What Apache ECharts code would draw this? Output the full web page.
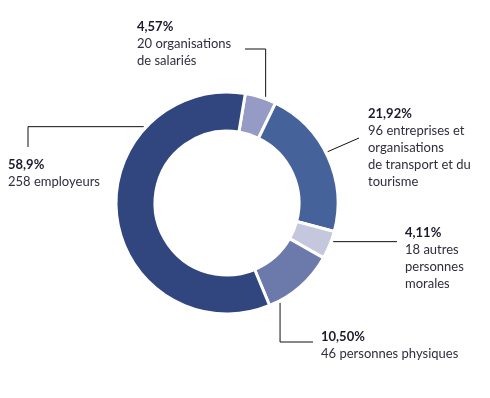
<!DOCTYPE html>
<html>
<head>
<meta charset="utf-8">
<script src="https://cdn.jsdelivr.net/npm/echarts@6/dist/echarts.min.js"></script>
<style>
  html, body { margin: 0; padding: 0; background: #fff; }
  #donut { width: 490px; height: 398px; }
</style>
</head>
<body>
<div id="donut"></div>
<script>
// données (sens horaire depuis le haut)
const categories = ['20 organisations\nde salariés', '96 entreprises et\norganisations\nde transport et du\ntourisme', '18 autres\npersonnes\nmorales', '46 personnes physiques', '258 employeurs'];
const counts = [20, 96, 18, 46, 258];
const percents = ['4,57%', '21,92%', '4,11%', '10,50%', '58,9%'];

const colors = ['#959BC5', '#46629A', '#C5C7DF', '#6C79AB', '#31467E'];

var chartDom = document.getElementById('donut');
var myChart = echarts.init(chartDom);

const cx = 227, cy = 203;
// angle du départ du trait (degrés, sens horaire depuis le haut) et position du texte
const anchors = [
  { ang: 20, x: 137, y: 18 },
  { ang: 63, x: 368, y: 105 },
  { ang: 110, x: 405, y: 224 },
  { ang: 152, x: 321, y: 328 },
  { ang: 312.5, x: 8, y: 156 }
];
function anchorPt(i) {
  const a = anchors[i].ang * Math.PI / 180;
  return [cx + 113 * Math.sin(a), cy - 113 * Math.cos(a)];
}
function linePts(i) {
  const p = anchorPt(i);
  switch (i) {
    case 0: return [p, [p[0], 49], [245, 49]];
    case 1: return [p, [359, 138]];
    case 2: return [p, [397, p[1]]];
    case 3: return [p, [p[0], 342], [313, 342]];
    default: return [p, [28, p[1]], [28, 147]];
  }
}

const data = categories.map((name, i) => ({
  name: name,
  value: counts[i],
  itemStyle: { color: colors[i] }
}));

var option = {
  animation: false,
  series: [{
    type: 'pie',
    center: [cx, cy],
    radius: [72, 111],
    startAngle: 80.5,
    clockwise: true,
    itemStyle: { borderColor: '#fff', borderWidth: 3 },
    label: {
      show: true,
      position: 'outside',
      overflow: 'none',
      edgeDistance: 0,
      fontFamily: 'Lato',
      formatter: function (p) {
        const lines = categories[p.dataIndex].split('\n').map(s => '{d|' + s + '}');
        return '{p|' + percents[p.dataIndex] + '}\n' + lines.join('\n');
      },
      rich: {
        p: { fontFamily: 'Lato', fontWeight: 'bold', fontSize: 13, color: '#1b1b2b', lineHeight: 17 },
        d: { fontFamily: 'Lato', fontSize: 13, color: '#2e2e3e', lineHeight: 17 }
      }
    },
    labelLine: {
      show: true,
      lineStyle: { color: '#111', width: 1 }
    },
    labelLayout: function (params) {
      const i = params.dataIndex;
      return {
        x: anchors[i].x,
        y: anchors[i].y,
        align: 'left',
        verticalAlign: 'top',
        labelLinePoints: linePts(i)
      };
    },
    data: data
  }]
};

option && myChart.setOption(option);
</script>
</body>
</html>
